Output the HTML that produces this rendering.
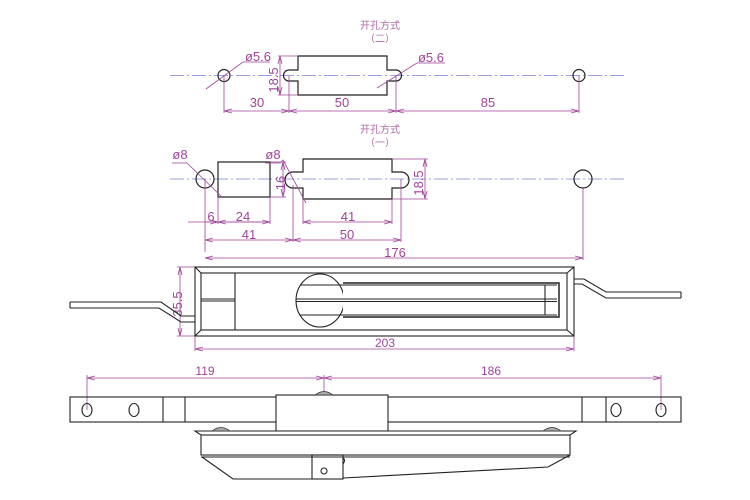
<!DOCTYPE html>
<html><head><meta charset="utf-8"><style>
html,body{margin:0;padding:0;background:#fff;}
svg{display:block;}
text{font-family:"Liberation Sans","Noto Sans CJK SC",sans-serif;}
</style></head><body>
<svg width="750" height="500" viewBox="0 0 750 500" xmlns="http://www.w3.org/2000/svg">
<defs>
<marker id="a" markerWidth="8" markerHeight="6" refX="8" refY="3" orient="auto-start-reverse" markerUnits="userSpaceOnUse">
<path d="M0,1 L8,3 L0,5" fill="none" stroke="#a0449a" stroke-width="0.8"/></marker>
</defs>
<g fill="none" stroke="#7b80d8" stroke-width="0.8" stroke-dasharray="14,3,2,3">
<line x1="170" y1="75.5" x2="626" y2="75.5"/>
<line x1="170" y1="179" x2="626" y2="179"/>
</g>
<g fill="#b06aa8" font-size="10" text-anchor="middle">
<text x="380" y="29">开孔方式</text>
<text x="380" y="42">（二）</text>
<text x="380" y="133">开孔方式</text>
<text x="380" y="146">（一）</text>
</g>
<g fill="none" stroke="#222" stroke-width="1.2">
<circle cx="224" cy="75.5" r="6"/>
<circle cx="579" cy="75.5" r="6"/>
<path d="M298,70 V56 H387 V70 H396 A5.5,5.5 0 0 1 396,81 H387 V95 H298 V81 H289 A5.5,5.5 0 0 1 289,70 Z"/>
<circle cx="205" cy="179" r="9"/>
<circle cx="583" cy="179" r="9"/>
<rect x="218" y="162" width="52" height="35"/>
<path d="M303,172 V159 H392 V172 H401 A8,8 0 0 1 401,188 H392 V199 H303 V188 H293 A8,8 0 0 1 293,172 Z"/>
</g>
<g fill="none" stroke="#a0449a" stroke-width="0.8">
<line x1="224" y1="76" x2="224" y2="113"/><line x1="289" y1="76" x2="289" y2="113"/>
<line x1="396" y1="76" x2="396" y2="113"/><line x1="579" y1="76" x2="579" y2="113"/>
<line x1="224" y1="111" x2="289" y2="111" marker-start="url(#a)" marker-end="url(#a)"/>
<line x1="289" y1="111" x2="396" y2="111" marker-start="url(#a)" marker-end="url(#a)"/>
<line x1="396" y1="111" x2="579" y2="111" marker-start="url(#a)" marker-end="url(#a)"/>
<line x1="280" y1="56" x2="280" y2="95" marker-start="url(#a)" marker-end="url(#a)"/>
<line x1="278" y1="56" x2="298" y2="56"/><line x1="278" y1="95" x2="298" y2="95"/>
<polyline points="206,89 243,62 270,62"/>
<polyline points="377,88 417,63 445,63"/>
<line x1="283" y1="162" x2="283" y2="197" marker-start="url(#a)" marker-end="url(#a)"/>
<line x1="270" y1="162" x2="286" y2="162"/><line x1="270" y1="197" x2="286" y2="197"/>
<line x1="425" y1="159" x2="425" y2="199" marker-start="url(#a)" marker-end="url(#a)"/>
<line x1="392" y1="159" x2="428" y2="159"/><line x1="392" y1="199" x2="428" y2="199"/>
<polyline points="172,163 187,163 223,198"/>
<polyline points="265,163 280,163 283,160 306,203"/>
<line x1="205" y1="179" x2="205" y2="252"/>
<line x1="583" y1="188" x2="583" y2="260"/>
<line x1="218" y1="197" x2="218" y2="224"/><line x1="270" y1="197" x2="270" y2="224"/>
<line x1="303" y1="199" x2="303" y2="224"/><line x1="392" y1="199" x2="392" y2="224"/>
<line x1="293" y1="185" x2="293" y2="242"/><line x1="401" y1="179" x2="401" y2="242"/>
<line x1="188" y1="222" x2="270" y2="222"/>
<line x1="205" y1="222" x2="218" y2="222" marker-end="url(#a)"/>
<line x1="218" y1="222" x2="270" y2="222" marker-start="url(#a)" marker-end="url(#a)"/>
<line x1="303" y1="222" x2="392" y2="222" marker-start="url(#a)" marker-end="url(#a)"/>
<line x1="205" y1="240" x2="293" y2="240" marker-start="url(#a)" marker-end="url(#a)"/>
<line x1="293" y1="240" x2="401" y2="240" marker-start="url(#a)" marker-end="url(#a)"/>
<line x1="205" y1="258" x2="583" y2="258" marker-start="url(#a)" marker-end="url(#a)"/>
<line x1="180" y1="267" x2="180" y2="336" marker-start="url(#a)" marker-end="url(#a)"/>
<line x1="177" y1="267" x2="195" y2="267"/><line x1="177" y1="336" x2="195" y2="336"/>
<line x1="195" y1="336" x2="195" y2="351"/><line x1="574" y1="336" x2="574" y2="351"/>
<line x1="195" y1="349" x2="574" y2="349" marker-start="url(#a)" marker-end="url(#a)"/>
<line x1="87" y1="375" x2="87" y2="410"/><line x1="324" y1="375" x2="324" y2="393"/><line x1="661" y1="375" x2="661" y2="410"/>
<line x1="87" y1="378" x2="324" y2="378" marker-start="url(#a)" marker-end="url(#a)"/>
<line x1="324" y1="378" x2="661" y2="378" marker-start="url(#a)" marker-end="url(#a)"/>
</g>
<g fill="#a0449a" font-size="13" text-anchor="middle">
<text x="257" y="107">30</text><text x="342" y="107">50</text><text x="488" y="107">85</text>
<text x="258" y="61">ø5.6</text><text x="431" y="62">ø5.6</text>
<text x="180" y="159">ø8</text><text x="273" y="159">ø8</text>
<text x="211" y="221">6</text><text x="243" y="221">24</text>
<text x="348" y="221">41</text>
<text x="249" y="239">41</text><text x="347" y="239">50</text>
<text x="395" y="257">176</text>
<text x="272" y="76" transform="rotate(-90 277 75)">18.5</text>
<text x="277" y="183" transform="rotate(-90 281 179)">16</text>
<text x="415" y="183" transform="rotate(-90 419 179)">18.5</text>
<text x="174" y="304" transform="rotate(-90 178 300)">35.5</text>
<text x="385" y="347" font-size="12">203</text>
<text x="205" y="375" font-size="12">119</text>
<text x="491" y="375" font-size="12">186</text>
</g>
<g fill="none" stroke="#222" stroke-width="1.1">
<rect x="195" y="267" width="379" height="69"/>
<rect x="201" y="273" width="366" height="57"/>
<line x1="195" y1="267" x2="201" y2="273"/><line x1="574" y1="267" x2="567" y2="273"/>
<line x1="195" y1="336" x2="201" y2="330"/><line x1="574" y1="336" x2="567" y2="330"/>
<line x1="235" y1="273" x2="235" y2="330"/>
<line x1="201" y1="299" x2="235" y2="299"/><line x1="201" y1="301" x2="235" y2="301"/>
<ellipse cx="320" cy="300.5" rx="24" ry="26.5"/>
<path d="M343,283 H559 V317 H343" fill="#fff" stroke-width="1.5"/>
<line x1="300" y1="285" x2="557" y2="285"/><line x1="300" y1="315" x2="557" y2="315"/>
<line x1="296" y1="299" x2="557" y2="299"/><line x1="296" y1="301.5" x2="557" y2="301.5"/>
<line x1="545" y1="285" x2="545" y2="315"/>
<polyline points="70,302 161,302 181,316 195,316"/>
<polyline points="70,308 159,308 181,322 195,322"/>
<line x1="70" y1="302" x2="70" y2="308"/>
<polyline points="574,279 584,279 606,292 681,292"/>
<polyline points="574,284 582,284 606,298 681,298"/>
<line x1="681" y1="292" x2="681" y2="298"/>
</g>
<g fill="none" stroke="#222" stroke-width="1.1">
<rect x="70" y="397" width="611" height="25"/>
<line x1="163" y1="397" x2="163" y2="422"/><line x1="185" y1="397" x2="185" y2="422"/>
<line x1="582" y1="397" x2="582" y2="422"/><line x1="606" y1="397" x2="606" y2="422"/>
<ellipse cx="87" cy="410" rx="5" ry="6.5"/><ellipse cx="134" cy="410" rx="5" ry="6.5"/>
<ellipse cx="616" cy="410" rx="5" ry="6.5"/><ellipse cx="661" cy="410" rx="5" ry="6.5"/>
<rect x="276" y="395" width="112" height="36" fill="#fff"/>
<path d="M195,431 H576 L570,435 H201 Z" fill="#fff"/>
<rect x="201" y="435" width="369" height="20"/>
<line x1="201" y1="457" x2="570" y2="457"/>
<polyline points="202,457 233,479 312,479"/>
<polyline points="343,478 548,467 570,455"/>
<rect x="312" y="455" width="31" height="24"/>
<circle cx="324" cy="471" r="3"/>
<path d="M343,458 q3,2 0,6"/>
</g>
<g stroke="#333" stroke-width="0.8" fill="#aaa">
<path d="M315,395 Q324,388 333,395 Z"/>
<path d="M212,431 Q221,424 230,431 Z"/>
<path d="M543,431 Q552,424 561,431 Z"/>
</g>
</svg>
</body></html>
